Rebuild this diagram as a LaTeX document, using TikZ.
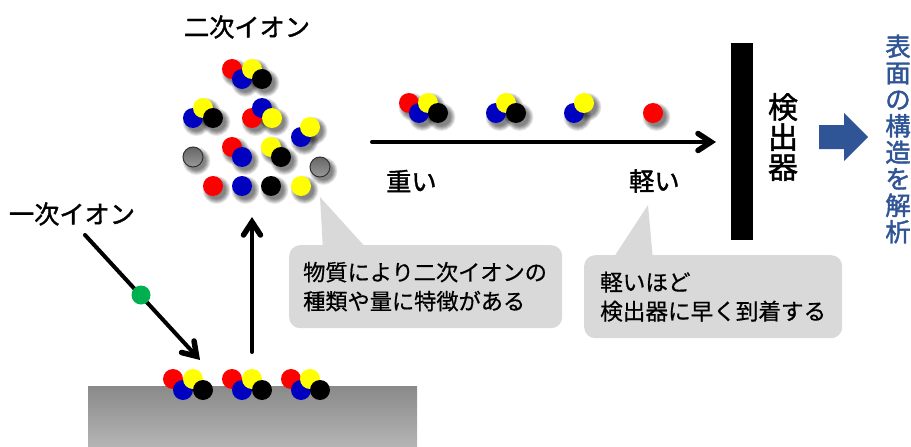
\documentclass[tikz,border=0pt]{standalone}
\usepackage{fontspec}
\newfontfamily\cjk[FakeBold=0.6]{Noto Sans CJK JP}
\newfontfamily\cjkh[FakeBold=1.5]{Noto Sans CJK JP}
\usetikzlibrary{arrows.meta}
\definecolor{ballblue}{HTML}{0000C0}
\definecolor{ballyellow}{HTML}{FFFF00}
\definecolor{ballred}{HTML}{FF0000}
\definecolor{callout}{HTML}{D9D9D9}
\definecolor{deepblue}{HTML}{2F5597}
\definecolor{greenball}{HTML}{00B050}
\tikzset{
  x=1pt,y=-1pt,
  ballnode/.style={circle,minimum size=20pt,inner sep=0pt,outer sep=0pt},
  grayball/.style={ballnode,draw=black!80,line width=1pt,top color=black!60,bottom color=black!40},
  heavyarrow/.style={line width=4pt,line cap=round,-{Straight Barb[length=13pt,width=17pt,line width=5.5pt,line cap=round,line join=miter]}},
  bigtext/.style={font=\cjkh\fontsize{25.2}{30}\selectfont,inner sep=0pt,text=black},
  calloutbox/.style={fill=callout,rounded corners=11pt,inner sep=0pt,align=left,font=\cjk\fontsize{22.2}{29}\selectfont,text=black},
  calloutpin/.style={fill=callout,draw=none},
}
% soft shadow of a ball
\newcommand{\softshadow}[2]{%
  \foreach \rr in {14,13.5,13,12.5,12,11.5,11,10.5,10,9.5,9}{%
    \fill[black,opacity=0.055] (#1+3.5,#2+4) circle[radius=\rr];}}
% list of colour/x/y: shadows first (if #2 = s), then balls
\newcommand{\ballgroup}[3]{%
  \if#2s\foreach \c/\x/\y in {#3}{\softshadow{\x}{\y}}\fi
  \foreach \c/\x/\y [count=\n] in {#3}{\node[ballnode,fill=\c] (#1-\n) at (\x,\y) {};}}
\begin{document}
\begin{tikzpicture}
\useasboundingbox (0,0) rectangle (911,447);
\fill[white] (0,0) rectangle (911,447);
% surface
\node[minimum width=329pt,minimum height=61pt,inner sep=0pt,anchor=north west,top color=black!46,bottom color=black!29,draw=none] (surface) at (88,386) {};
% surface clusters
\ballgroup{sa}{n}{ballred/173/379,ballblue/183/390,ballyellow/193/379,black/203/390}
\ballgroup{sb}{n}{ballred/232/379,ballblue/242/390,ballyellow/252/379,black/262/390}
\ballgroup{sc}{n}{ballred/291/379,ballblue/301/390,ballyellow/310/379,black/320/390}
% secondary ions
\ballgroup{ga}{s}{ballred/232/69,ballblue/242/79,ballyellow/252/69,black/262/79}
\ballgroup{gb}{s}{ballblue/193/118,ballyellow/203/108,black/213/118}
\ballgroup{gc}{s}{ballred/252/118,ballblue/262/108,ballyellow/272/118}
\ballgroup{gd}{s}{ballblue/301/137,ballyellow/310/127}
\ballgroup{ge}{s}{ballred/232/147,ballblue/242/157}
\ballgroup{gf}{s}{ballyellow/271/147,black/281/157}
\ballgroup{gg}{s}{ballred/213/186}
\ballgroup{gh}{s}{ballblue/242/186}
\ballgroup{gi}{s}{black/271/186}
\ballgroup{gj}{s}{ballyellow/301/186}
\softshadow{193}{157}
\softshadow{320}{167}
\node[grayball] (grayA) at (193,157) {};
\node[grayball] (grayB) at (320,167) {};
% flight row
\ballgroup{fa}{s}{ballred/409/103,ballblue/419/113,ballyellow/428/103,black/438/113}
\ballgroup{fb}{s}{ballblue/496/113,ballyellow/506/103,black/516/113}
\ballgroup{fc}{s}{ballblue/574/113,ballyellow/584/103}
\ballgroup{fd}{s}{ballred/653/113}
% arrows
\coordinate (flightstart) at (372,142);
\coordinate (flightend) at (716,142);
\draw[heavyarrow] (flightstart) -- (flightend);
\coordinate (upstart) at (252,352);
\coordinate (upend) at (252,217);
\draw[heavyarrow] (upstart) -- (upend);
\coordinate (primstart) at (85,235);
\coordinate (primend) at (200,360);
\draw[heavyarrow] (primstart) -- (primend);
\node[ballnode,minimum size=19pt,fill=greenball] (primary) at (141,295) {};
% labels
\node[bigtext] (second) at (247,27) {二次イオン};
\node[bigtext] (first) at (72,214) {一次イオン};
\node[bigtext,anchor=west] (heavy) at (386,181) {重い};
\node[bigtext,anchor=west] (light) at (629,181) {軽い};
% detector
\node[fill=black,minimum width=22pt,minimum height=197pt,inner sep=0pt,anchor=north west] (detector) at (731,43) {};
\node[bigtext,align=center,font=\cjkh\fontsize{30}{30}\selectfont] (detlabel) at (783,137) {検\\出\\器};
% result
\draw[fill=deepblue,draw=none] (819,125) -- (844,125) -- (844,113) -- (868,137) -- (844,161) -- (844,149) -- (819,149) -- cycle;
\node[bigtext,align=center,text=deepblue,font=\cjkh\fontsize{25.5}{26.5}\selectfont] (result) at (898,139) {表\\面\\の\\構\\造\\を\\解\\析};
% callouts
\fill[calloutpin] (320,197) -- (323,250) -- (368,250) -- cycle;
\node[calloutbox,minimum width=273pt,minimum height=83pt,text width=245pt,anchor=north west,inner xsep=14pt] (noteA) at (289,245) {物質により二次イオンの\\種類や量に特徴がある};
\fill[calloutpin] (648,205) -- (612,260) -- (653,260) -- cycle;
\node[calloutbox,font=\cjk\fontsize{22.6}{29}\selectfont,minimum width=258pt,minimum height=83pt,text width=226pt,anchor=north west,inner xsep=16pt] (noteB) at (584,255) {軽いほど\\検出器に早く到着する};
\end{tikzpicture}
\end{document}
